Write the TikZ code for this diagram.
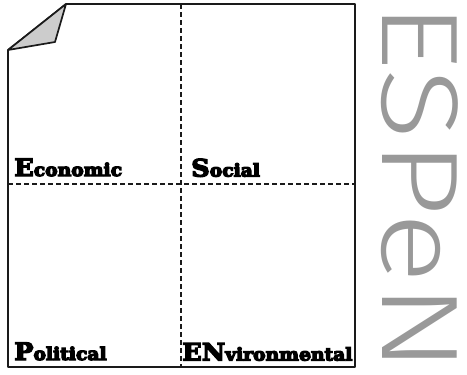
\documentclass[tikz,border=0pt]{standalone}
\usepackage{fontspec}
\newfontfamily\labfont{DejaVu Serif Bold}[FakeStretch=1.07]
\newfontfamily\bigfont{Fira Sans Light}[FakeStretch=1.22]
\definecolor{foldgray}{HTML}{CCCCCC}
\definecolor{titlegray}{HTML}{999999}
\definecolor{inkc}{HTML}{1A1A1A}
\newcommand\capL[1]{{\fontsize{24}{24}\selectfont #1}}
\newcommand\heavy[1]{\special{pdf:literal direct 2 Tr 1.3 w 0 0 0 RG}#1\special{pdf:literal direct 0 Tr}}
\tikzset{
  frameline/.style={draw=inkc, line width=1.7pt, line join=round},
  divline/.style={draw=inkc, line width=1.1pt, dash pattern=on 5pt off 3pt},
  lab/.style={font=\labfont\fontsize{17.5}{20}\selectfont, inner sep=0pt, anchor=base west, text=black},
}
\begin{document}
\begin{tikzpicture}[x=1pt,y=-1pt]
\useasboundingbox (0,0) rectangle (467,375);
\coordinate (tl) at (8,50);
\coordinate (tc) at (66,4);
\coordinate (tr) at (355,4);
\coordinate (br) at (355,367);
\coordinate (bl) at (8,367);
\coordinate (fp) at (55,42);
\coordinate (vt) at (181,4);
\coordinate (vb) at (181,367);
\coordinate (hl) at (8,184);
\coordinate (hr) at (355,184);
\draw[divline] (vt) -- (vb);
\draw[divline] (hl) -- (hr);
\draw[frameline] (bl) -- (tl) -- (tc) -- (tr) -- (br) -- cycle;
\filldraw[frameline, fill=foldgray] (tl) -- (fp) -- (tc) -- cycle;
\node[lab] (eco) at (14,176) {\heavy{\capL{E}conomic}};
\node[lab] (soc) at (191,176.5) {\heavy{\capL{S}ocial}};
\node[lab] (pol) at (14,360) {\heavy{\capL{P}olitical}};
\node[lab] (env) at (182,360.5) {\heavy{\capL{EN}vironmental}};
\node[font=\bigfont\fontsize{109}{109}\selectfont, text=titlegray, inner sep=0pt, rotate=-90, anchor=base west] (title) at (382,2) {ESPeN};
\end{tikzpicture}
\end{document}
